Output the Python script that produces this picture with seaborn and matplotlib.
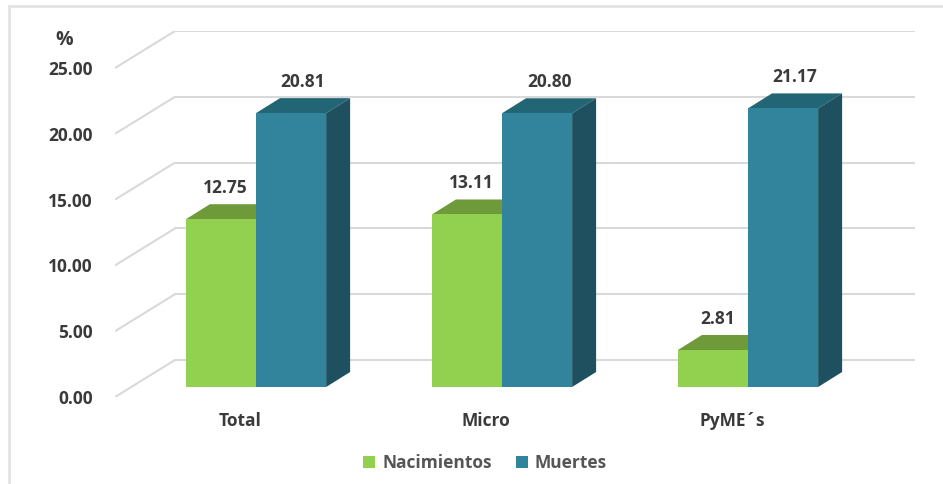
# -*- coding: utf-8 -*-
import numpy as np
import pandas as pd
import seaborn as sns
import matplotlib.pyplot as plt
from matplotlib.patches import Polygon
from matplotlib.lines import Line2D

# datos
categorias = ["Total", "Micro", "PyME´s"]
nacimientos = [12.75, 13.11, 2.81]
muertes = [20.81, 20.80, 21.17]
series = ["Nacimientos", "Muertes"]
yticks = [0, 5, 10, 15, 20, 25]

df = pd.DataFrame({
    "categoria": categorias * 2,
    "valor": nacimientos + muertes,
    "serie": [series[0]] * 3 + [series[1]] * 3,
})

# colores (frente, arriba, lado)
verde = ("#92D050", "#6E9A3A", "#5E8530")
azul = ("#31849B", "#226676", "#1F5060")
gris_txt = "#3A3A3A"
gris_grid = "#D9D9D9"
fs = 12.5

sns.set_style("white")
plt.rcParams["font.family"] = ["Open Sans", "DejaVu Sans"]
plt.rcParams["font.weight"] = "bold"

W, H = 943, 484
fig = plt.figure(figsize=(W / 100, H / 100), dpi=100)

# caja de ejes en pixeles
ax_l, ax_r, ax_t, ax_b = 115, 915, 31, 397
ax = fig.add_axes([ax_l / W, 1 - ax_b / H, (ax_r - ax_l) / W, (ax_b - ax_t) / H])

sns.barplot(data=df, x="categoria", y="valor", hue="serie",
            palette=[verde[0], azul[0]], width=0.57, ax=ax,
            saturation=1, linewidth=0, zorder=2)

# escala: px por unidad
x0_px, px_x = 256, 246
y0_px, px_y = 387, 13.16
ax.set_xlim((ax_l - x0_px) / px_x, (ax_r - x0_px) / px_x)
ax.set_ylim(-(ax_b - y0_px) / px_y, (y0_px - ax_t) / px_y)

# profundidad 3D (px)
front_drop = (ax_b - y0_px) / px_y          # plano de etiquetas
back_rise = 27 / px_y                       # pared del fondo
front_dx = -16 / px_x
back_dx = 44 / px_x
bar_dx, bar_dy = 24 / px_x, 15 / px_y

# rejilla en perspectiva
xl = ax.get_xlim()
for v in yticks:
    ax.plot([xl[0], xl[0] + back_dx - front_dx],
            [v - front_drop, v + back_rise],
            color=gris_grid, lw=1.5, zorder=1, solid_capstyle="butt")
    ax.plot([xl[0] + back_dx - front_dx, xl[1]],
            [v + back_rise, v + back_rise],
            color=gris_grid, lw=1.5, zorder=1)

# caras superior y lateral
for i, cont in enumerate(ax.containers):
    cols = verde if i == 0 else azul
    lab_dx = bar_dx * (0.2 if i == 0 else 0.5)
    for p in cont.patches:
        x0, w, h = p.get_x(), p.get_width(), p.get_height()
        x1 = x0 + w
        top = Polygon([(x0, h), (x1, h), (x1 + bar_dx, h + bar_dy), (x0 + bar_dx, h + bar_dy)],
                      closed=True, facecolor=cols[1], lw=0, zorder=1.9)
        side = Polygon([(x1, 0), (x1 + bar_dx, bar_dy), (x1 + bar_dx, h + bar_dy), (x1, h)],
                       closed=True, facecolor=cols[2], lw=0, zorder=1.9)
        ax.add_patch(top)
        ax.add_patch(side)
        ax.text(x0 + w / 2 + lab_dx, h + bar_dy + 0.55, f"{h:.2f}",
                ha="center", va="bottom", fontsize=fs, fontweight="bold",
                color=gris_txt, zorder=3)

# ejes
for s in ax.spines.values():
    s.set_visible(False)
ax.set_yticks([v - front_drop for v in yticks])
ax.set_yticklabels([f"{v:.2f}" for v in yticks])
ax.set_xticks([i + front_dx for i in range(len(categorias))])
ax.set_xticklabels(categorias)
ax.tick_params(axis="y", length=0, pad=16, labelsize=fs, labelcolor=gris_txt)
ax.tick_params(axis="x", length=0, pad=11, labelsize=fs, labelcolor=gris_txt)
ax.set_xlabel("")
ax.set_ylabel("")
ax.patch.set_alpha(0)

fig.text(64 / W, 1 - 40 / H, "%", ha="center", va="center",
         fontsize=14, fontweight="bold", color=gris_txt)

# leyenda
sns.move_legend(ax, "center", bbox_to_anchor=(485 / W, 1 - 463 / H),
                bbox_transform=fig.transFigure, ncol=2, frameon=False,
                title=None, handlelength=0.7, handleheight=0.7,
                handletextpad=0.4, columnspacing=1.4, fontsize=fs)
for t in ax.get_legend().get_texts():
    t.set_color("#555555")
    t.set_fontweight("bold")

# marco
fig.add_artist(Line2D([9 / W, 9 / W], [0, 1 - 6 / H], color="#E3E3E3", lw=2))
fig.add_artist(Line2D([9 / W, 1], [1 - 6 / H, 1 - 6 / H], color="#E3E3E3", lw=2))

fig.savefig("out.png", dpi=100, facecolor="white")
